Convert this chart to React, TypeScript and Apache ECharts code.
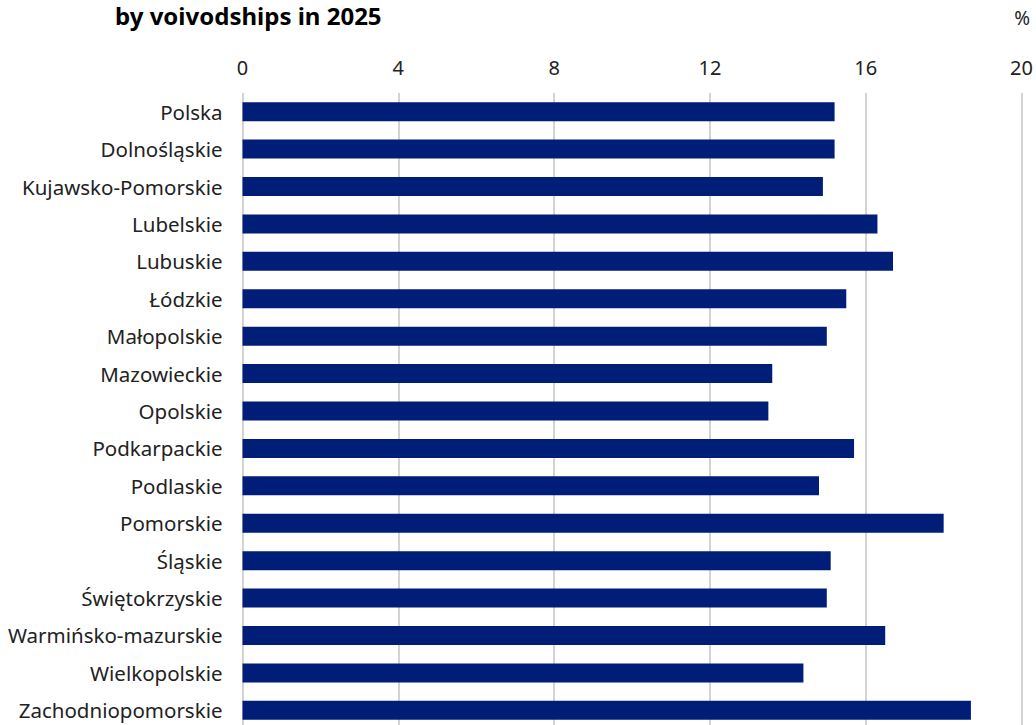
import React, { useEffect, useRef } from "react";
import * as echarts from "echarts";

const categories = [
  "Polska",
  "Dolnośląskie",
  "Kujawsko-Pomorskie",
  "Lubelskie",
  "Lubuskie",
  "Łódzkie",
  "Małopolskie",
  "Mazowieckie",
  "Opolskie",
  "Podkarpackie",
  "Podlaskie",
  "Pomorskie",
  "Śląskie",
  "Świętokrzyskie",
  "Warmińsko-mazurskie",
  "Wielkopolskie",
  "Zachodniopomorskie",
];

const values = [15.2, 15.2, 14.9, 16.3, 16.7, 15.5, 15.0, 13.6, 13.5, 15.7, 14.8, 18.0, 15.1, 15.0, 16.5, 14.4, 18.7];

const titleText = "by voivodships in 2025";
const unitText = "%";

const FONT = "'Noto Sans', 'DejaVu Sans', sans-serif";

export default function App() {
  const ref = useRef<HTMLDivElement>(null);
  useEffect(() => {
    if (!ref.current) return;
    const chart = echarts.init(ref.current, undefined, { renderer: "svg" });
    chart.setOption({
      animation: false,
      backgroundColor: "#ffffff",
      textStyle: { fontFamily: FONT },
      grid: { left: 242.5, right: 13.5, top: 93, height: 636, containLabel: false },
      graphic: [
        {
          type: "text",
          left: 115,
          top: 3,
          style: { text: titleText, fontFamily: FONT, fontSize: 24, fontWeight: "bold", fill: "#000000" },
        },
        {
          type: "text",
          right: 6,
          top: 8,
          style: { text: unitText, fontFamily: FONT, fontSize: 19, fill: "#222222" },
        },
      ],
      xAxis: {
        type: "value",
        position: "top",
        min: 0,
        max: 20,
        interval: 4,
        axisLine: { show: false },
        axisTick: { show: false },
        axisLabel: { color: "#222222", fontSize: 20, fontFamily: FONT, margin: 16 },
        splitLine: { show: true, lineStyle: { color: "#d3d3d3", width: 2 } },
      },
      yAxis: {
        type: "category",
        inverse: true,
        data: categories,
        axisLine: { show: false },
        axisTick: { show: false },
        axisLabel: { color: "#222222", fontSize: 20.5, fontFamily: FONT, margin: 20 },
        splitLine: { show: false },
      },
      series: [
        {
          type: "bar",
          data: values,
          barWidth: 19,
          itemStyle: { color: "#001d77" },
        },
      ],
    });
    return () => chart.dispose();
  }, []);
  return (
    <div
      ref={ref}
      style={{ position: "fixed", left: 0, top: 0, width: 1036, height: 740, background: "#fff" }}
    />
  );
}
